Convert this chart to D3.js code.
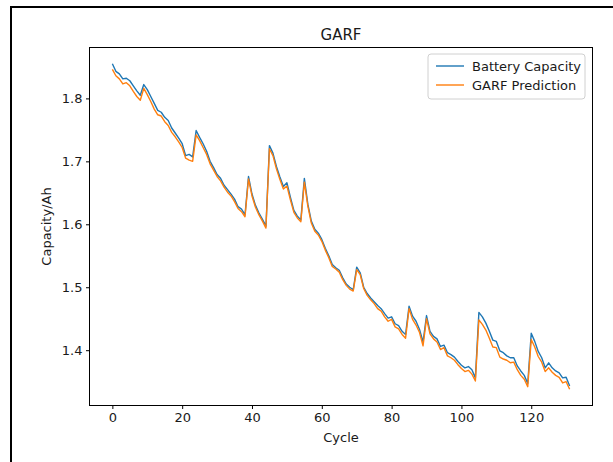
<!DOCTYPE html>
<html>
<head>
<meta charset="utf-8">
<script src="https://cdn.jsdelivr.net/npm/d3@7"></script>
<style>
  html, body { margin: 0; padding: 0; background: #fff; }
  svg { display: block; }
  text { font-family: "DejaVu Sans", sans-serif; fill: #1a1a1a; }
</style>
</head>
<body>
<svg id="chart" width="613" height="462"></svg>
<script>
// Measured discharge capacity per cycle (Ah)
const batteryCapacity = [
  1.855, 1.843, 1.839, 1.831, 1.832, 1.828, 1.820, 1.812, 1.805, 1.822,
  1.814, 1.803, 1.792, 1.781, 1.778, 1.770, 1.765, 1.753, 1.745, 1.737,
  1.728, 1.709, 1.711, 1.707, 1.749, 1.738, 1.728, 1.716, 1.700, 1.690,
  1.679, 1.673, 1.662, 1.655, 1.648, 1.640, 1.628, 1.624, 1.615, 1.676,
  1.648, 1.630, 1.618, 1.608, 1.597, 1.725, 1.713, 1.692, 1.675, 1.660,
  1.666, 1.643, 1.622, 1.613, 1.607, 1.673, 1.632, 1.605, 1.592, 1.586,
  1.576, 1.562, 1.550, 1.536, 1.531, 1.527, 1.515, 1.505, 1.500, 1.496,
  1.532, 1.523, 1.500, 1.490, 1.483, 1.477, 1.471, 1.466, 1.458, 1.451,
  1.453, 1.442, 1.439, 1.430, 1.425, 1.470, 1.454, 1.446, 1.433, 1.413,
  1.455, 1.430, 1.422, 1.418, 1.406, 1.408, 1.396, 1.393, 1.389, 1.382,
  1.376, 1.372, 1.374, 1.369, 1.356, 1.460, 1.453, 1.443, 1.430, 1.416,
  1.414, 1.399, 1.396, 1.391, 1.388, 1.388, 1.375, 1.367, 1.360, 1.347,
  1.427, 1.414, 1.398, 1.388, 1.372, 1.380, 1.372, 1.367, 1.364, 1.356,
  1.357, 1.343
];

// Model output for the same cycles (Ah)
const garfPrediction = [
  1.846, 1.836, 1.831, 1.823, 1.825, 1.820, 1.811, 1.803, 1.797, 1.816,
  1.806, 1.795, 1.783, 1.774, 1.772, 1.763, 1.757, 1.746, 1.739, 1.731,
  1.722, 1.705, 1.702, 1.700, 1.742, 1.733, 1.722, 1.711, 1.696, 1.686,
  1.676, 1.669, 1.659, 1.651, 1.645, 1.636, 1.625, 1.620, 1.612, 1.672,
  1.645, 1.627, 1.615, 1.605, 1.594, 1.720, 1.709, 1.688, 1.671, 1.656,
  1.661, 1.639, 1.619, 1.610, 1.604, 1.667, 1.629, 1.602, 1.589, 1.583,
  1.573, 1.559, 1.547, 1.533, 1.529, 1.524, 1.512, 1.503, 1.497, 1.494,
  1.528, 1.520, 1.498, 1.487, 1.480, 1.474, 1.466, 1.462, 1.453, 1.446,
  1.449, 1.437, 1.434, 1.425, 1.419, 1.466, 1.449, 1.440, 1.428, 1.407,
  1.450, 1.426, 1.418, 1.413, 1.401, 1.404, 1.391, 1.388, 1.384, 1.377,
  1.371, 1.366, 1.368, 1.362, 1.351, 1.448, 1.441, 1.432, 1.419, 1.405,
  1.404, 1.389, 1.386, 1.384, 1.380, 1.381, 1.369, 1.360, 1.354, 1.342,
  1.417, 1.405, 1.390, 1.381, 1.366, 1.372, 1.365, 1.360, 1.357, 1.348,
  1.350, 1.338
];

const xTicks = [0, 20, 40, 60, 80, 100, 120];
const yTicks = [1.4, 1.5, 1.6, 1.7, 1.8];
const seriesNames = ["Battery Capacity", "GARF Prediction"];
const seriesColors = ["#1f77b4", "#ff7f0e"];

const svg = d3.select("#chart");

// figure frame (left and top edges)
svg.append("rect").attr("x", 10).attr("y", 6).attr("width", 2).attr("height", 456).attr("fill", "#000");
svg.append("rect").attr("x", 10).attr("y", 6).attr("width", 603).attr("height", 2).attr("fill", "#000");

const plot = { left: 89.5, right: 592.5, top: 47.5, bottom: 405.5 };

// axis limits with 5% padding around the data
const n = batteryCapacity.length;
const allVals = batteryCapacity.concat(garfPrediction);
const yMin = d3.min(allVals), yMax = d3.max(allVals);
const xPad = (n - 1) * 0.05, yPad = (yMax - yMin) * 0.05;

const x = d3.scaleLinear().domain([-xPad, n - 1 + xPad]).range([plot.left, plot.right]);
const y = d3.scaleLinear().domain([yMin - yPad, yMax + yPad]).range([plot.bottom, plot.top]);

const line = d3.line().x((d, i) => x(i)).y(d => y(d));

const clipId = "plot-clip";
svg.append("clipPath").attr("id", clipId).append("rect")
  .attr("x", plot.left).attr("y", plot.top)
  .attr("width", plot.right - plot.left).attr("height", plot.bottom - plot.top);

const lines = svg.append("g").attr("clip-path", `url(#${clipId})`);
[batteryCapacity, garfPrediction].forEach((s, k) => {
  lines.append("path").datum(s)
    .attr("fill", "none")
    .attr("stroke", seriesColors[k])
    .attr("stroke-width", 1.4)
    .attr("stroke-linejoin", "round")
    .attr("d", line);
});

// axes
const xAxis = svg.append("g").attr("transform", `translate(0,${plot.bottom})`)
  .call(d3.axisBottom(x).tickValues(xTicks).tickFormat(d3.format("d")).tickSizeOuter(0).tickSize(3.5).tickPadding(3.5));
const yAxis = svg.append("g").attr("transform", `translate(${plot.left},0)`)
  .call(d3.axisLeft(y).tickValues(yTicks).tickFormat(d3.format(".1f")).tickSizeOuter(0).tickSize(3.5).tickPadding(3.5));
[xAxis, yAxis].forEach(g => {
  g.select(".domain").remove();
  g.selectAll(".tick line").attr("stroke", "#000").attr("stroke-width", 1);
  g.selectAll(".tick text").attr("font-size", 13).attr("font-family", "DejaVu Sans").attr("fill", "#1a1a1a");
});

// spines
svg.append("rect")
  .attr("x", plot.left).attr("y", plot.top)
  .attr("width", plot.right - plot.left).attr("height", plot.bottom - plot.top)
  .attr("fill", "none").attr("stroke", "#000").attr("stroke-width", 1);

// title and axis labels
svg.append("text").attr("x", (plot.left + plot.right) / 2).attr("y", 40)
  .attr("text-anchor", "middle").attr("font-size", 15).text("GARF");
svg.append("text").attr("x", (plot.left + plot.right) / 2).attr("y", 442)
  .attr("text-anchor", "middle").attr("font-size", 13).text("Cycle");
svg.append("text").attr("transform", `translate(51,${(plot.top + plot.bottom) / 2}) rotate(-90)`)
  .attr("text-anchor", "middle").attr("font-size", 13).text("Capacity/Ah");

// legend
const legend = svg.append("g").attr("transform", "translate(428,54)");
legend.append("rect").attr("x", 0).attr("y", 0).attr("width", 157).attr("height", 45)
  .attr("rx", 3).attr("fill", "#fff").attr("fill-opacity", 0.8)
  .attr("stroke", "#d0d0d0").attr("stroke-width", 1);
seriesNames.forEach((name, k) => {
  const yy = 12 + k * 19;
  legend.append("line").attr("x1", 8).attr("x2", 36).attr("y1", yy).attr("y2", yy)
    .attr("stroke", seriesColors[k]).attr("stroke-width", 1.4);
  legend.append("text").attr("x", 44).attr("y", yy + 4.5).attr("font-size", 13).text(name);
});
</script>
</body>
</html>
